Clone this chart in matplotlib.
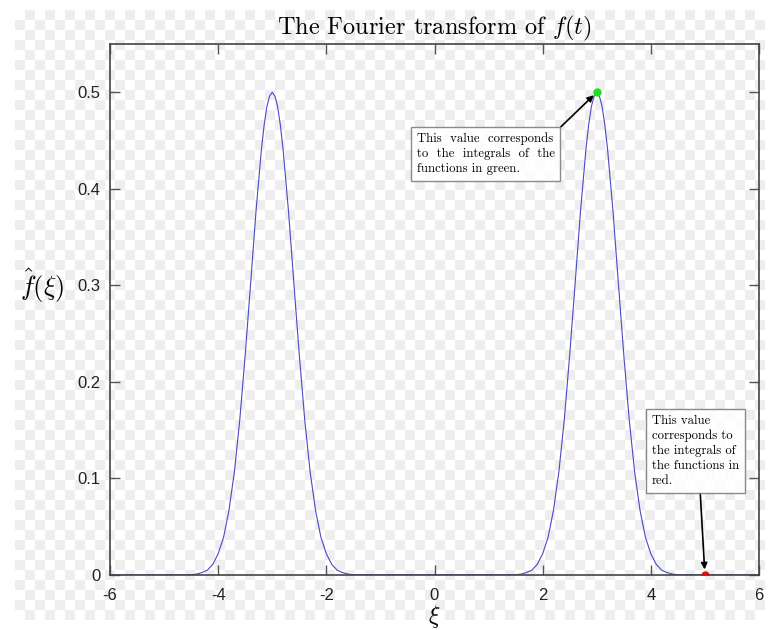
import matplotlib
matplotlib.use("Agg")
import matplotlib.pyplot as plt
import numpy as np

# values (two bumps at xi = -3 and xi = 3)
xi = [-6.0,
      -4.5, -4.4, -4.3, -4.2, -4.1, -4.0, -3.9, -3.8, -3.7, -3.6, -3.5, -3.4, -3.3, -3.2,
      -3.15, -3.1, -3.05, -3.0, -2.95, -2.9, -2.85,
      -2.8, -2.7, -2.6, -2.5, -2.4, -2.3, -2.2, -2.1, -2.0, -1.9, -1.8, -1.7, -1.6, -1.5,
      1.5, 1.6, 1.7, 1.8, 1.9, 2.0, 2.1, 2.2, 2.3, 2.4, 2.5, 2.6, 2.7, 2.8,
      2.85, 2.9, 2.95, 3.0, 3.05, 3.1, 3.15,
      3.2, 3.3, 3.4, 3.5, 3.6, 3.7, 3.8, 3.9, 4.0, 4.1, 4.2, 4.3, 4.4, 4.5,
      6.0]
fhat = [0.0,
        0.0002, 0.001, 0.0025, 0.005, 0.011, 0.022, 0.039, 0.067, 0.107, 0.161, 0.228, 0.302, 0.377, 0.441,
        0.466, 0.485, 0.496, 0.5, 0.496, 0.485, 0.466,
        0.441, 0.377, 0.302, 0.228, 0.161, 0.107, 0.067, 0.039, 0.022, 0.011, 0.005, 0.0025, 0.001, 0.0002,
        0.0002, 0.001, 0.0025, 0.005, 0.011, 0.022, 0.039, 0.067, 0.107, 0.161, 0.228, 0.302, 0.377, 0.441,
        0.466, 0.485, 0.496, 0.5, 0.496, 0.485, 0.466,
        0.441, 0.377, 0.302, 0.228, 0.161, 0.107, 0.067, 0.039, 0.022, 0.011, 0.005, 0.0025, 0.001, 0.0002,
        0.0]

green_pt = (3.0, 0.5)
red_pt = (5.0, 0.0)

green_note = "This  value  corresponds\nto  the  integrals  of  the\nfunctions in green."
red_note = "This value\ncorresponds to\nthe integrals of\nthe functions in\nred."

xticks = [-6, -4, -2, 0, 2, 4, 6]
yticks = [0, 0.1, 0.2, 0.3, 0.4, 0.5]

plt.rcParams['mathtext.fontset'] = 'cm'
plt.rcParams['axes.unicode_minus'] = False

W, H = 782, 630
fig = plt.figure(figsize=(W / 100, H / 100), dpi=100)
fig.patch.set_facecolor('white')

# checkerboard backdrop (transparent png look)
bg = fig.add_axes([0, 0, 1, 1], zorder=-5)
rows, cols = 61, 75
board = (np.add.outer(np.arange(rows), np.arange(cols)) % 2).astype(float)
bg.imshow(board, cmap=matplotlib.colors.ListedColormap(['#ffffff', '#eeeeee']),
          extent=[15, 765, 620, 10], interpolation='nearest', aspect='auto')
bg.set_xlim(0, W)
bg.set_ylim(H, 0)
bg.axis('off')

ax = fig.add_axes([110 / W, (H - 575) / H, 649 / W, 531 / H])
ax.set_facecolor('none')

ax.plot(xi, fhat, color='#4a4ac8', lw=0.8)
ax.plot(*green_pt, 'o', color='#22dd22', ms=5, zorder=5)
ax.plot(*red_pt, 'o', color='#dd1111', ms=5, zorder=5)

ax.set_xlim(-6, 6)
ax.set_ylim(0, 0.55)
ax.set_xticks(xticks)
ax.set_yticks(yticks)
ax.set_xticklabels([str(t) for t in xticks])
ax.set_yticklabels(['0', '0.1', '0.2', '0.3', '0.4', '0.5'])

for s in ax.spines.values():
    s.set_color('#444444')
    s.set_linewidth(1.2)
ax.tick_params(direction='in', top=True, right=True, length=7, width=1,
               color='#555555', labelsize=12, labelcolor='#222222')
ax.tick_params(axis='x', pad=9)
ax.tick_params(axis='y', pad=7)
for lab in ax.get_xticklabels() + ax.get_yticklabels():
    lab.set_fontfamily('Liberation Sans')

ax.set_title(r'The Fourier transform of $f(t)$', fontsize=17.5, family='cmr10', pad=7)
ax.set_xlabel(r'$\xi$', fontsize=17, va='top')
ax.xaxis.set_label_coords(0.5, -0.052)
ax.set_ylabel(r'$\hat{f}(\xi)$', fontsize=19, rotation=0, va='center')
ax.yaxis.set_label_coords(-0.105, 0.545)

box = dict(boxstyle='square,pad=0.45', fc='white', ec='#777777', lw=1, alpha=0.85)
ax.annotate(green_note, xy=green_pt, xytext=(-0.33, 0.458), ha='left', va='top',
            fontsize=9.2, family='cmr10', bbox=box, linespacing=1.3,
            arrowprops=dict(arrowstyle='-|>', color='black', lw=1.2,
                            relpos=(1, 1), shrinkA=0, shrinkB=3))
ax.annotate(red_note, xy=red_pt, xytext=(4.02, 0.166), ha='left', va='top',
            fontsize=9.2, family='cmr10', bbox=box, linespacing=1.3,
            arrowprops=dict(arrowstyle='-|>', color='black', lw=1.2,
                            relpos=(0.55, 0), shrinkA=0, shrinkB=4))

fig.savefig('out.png', dpi=100)
